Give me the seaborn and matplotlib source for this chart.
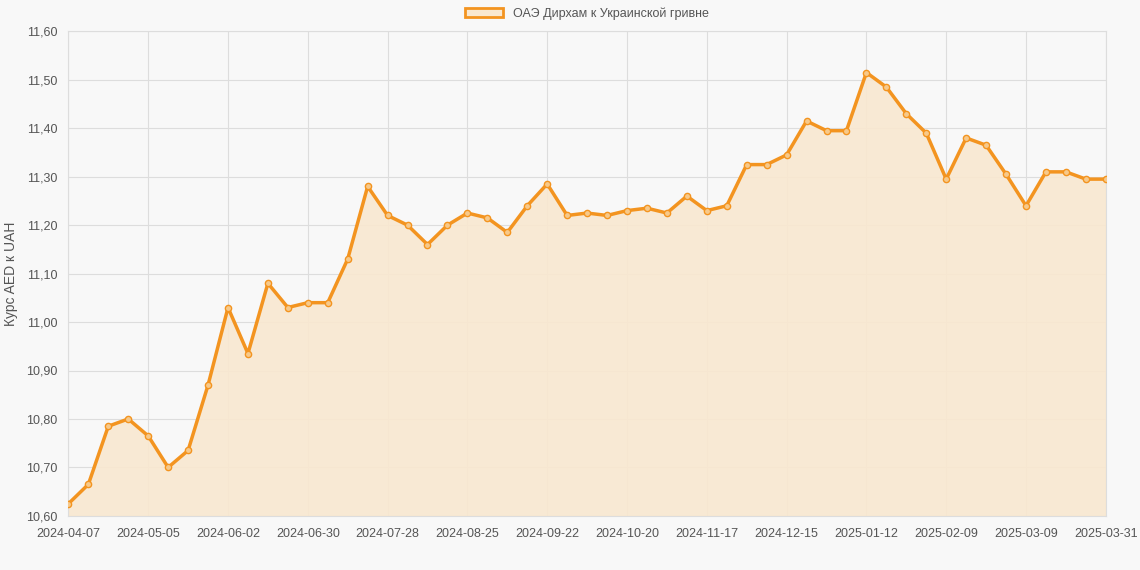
import pandas as pd
import matplotlib.pyplot as plt
import seaborn as sns
from matplotlib.ticker import FuncFormatter
from matplotlib.patches import Patch

dates = list(pd.date_range("2024-04-07", periods=52, freq="7D").strftime("%Y-%m-%d")) + ["2025-03-31"]
rates = [10.625, 10.665, 10.785, 10.80, 10.765, 10.70, 10.735, 10.87, 11.03, 10.935,
         11.08, 11.03, 11.04, 11.04, 11.13, 11.28, 11.22, 11.20, 11.16, 11.20,
         11.225, 11.215, 11.185, 11.24, 11.285, 11.22, 11.225, 11.22, 11.23, 11.235,
         11.225, 11.26, 11.23, 11.24, 11.325, 11.325, 11.345, 11.415, 11.395, 11.395,
         11.515, 11.485, 11.43, 11.39, 11.295, 11.38, 11.365, 11.305, 11.24, 11.31,
         11.31, 11.295, 11.295]
label = "ОАЭ Дирхам к Украинской гривне"

df = pd.DataFrame({"idx": range(len(dates)), "rate": rates})

sns.set_style("whitegrid")
plt.rcParams['font.family'] = ['Liberation Sans', 'DejaVu Sans']
fig, ax = plt.subplots(figsize=(11.4, 5.7), dpi=100)
fig.patch.set_facecolor("#f8f8f8")
ax.set_facecolor("#f8f8f8")

color = "#f39420"
ax.fill_between(df["idx"], rates, 10.6, color="#f9e8d0", alpha=0.9, zorder=1)
sns.lineplot(data=df, x="idx", y="rate", ax=ax, color=color, linewidth=2.5,
             marker="o", markersize=4.5, markerfacecolor="#f7c98a",
             markeredgecolor=color, markeredgewidth=1, zorder=3)

ax.set_xlim(0, len(dates) - 1)
ax.set_ylim(10.6, 11.6)
ax.set_yticks([10.6 + 0.1 * i for i in range(11)])
ax.yaxis.set_major_formatter(FuncFormatter(lambda v, p: f"{v:.2f}".replace(".", ",")))
ticks = list(range(0, len(dates) - 1, 4)) + [len(dates) - 1]
ax.set_xticks(ticks)
ax.set_xticklabels([dates[i] for i in ticks])
ax.tick_params(labelsize=9, colors="#555555", length=0)
ax.tick_params(axis="x", pad=9)
ax.tick_params(axis="y", pad=8)
ax.grid(color="#dddddd", linewidth=0.8)
for s in ax.spines.values():
    s.set_color("#dddddd")
ax.set_xlabel("")
ax.set_ylabel("Курс AED к UAH", color="#555555", fontsize=10, labelpad=6)

ax.legend(handles=[Patch(facecolor="#f9e8d0", edgecolor=color, linewidth=2, label=label)],
          loc="lower center", bbox_to_anchor=(0.5, 1.0), frameon=False, fontsize=9,
          labelcolor="#555555", handlelength=3)

plt.subplots_adjust(left=0.06, right=0.97, top=0.945, bottom=0.095)
plt.savefig("out.png")
